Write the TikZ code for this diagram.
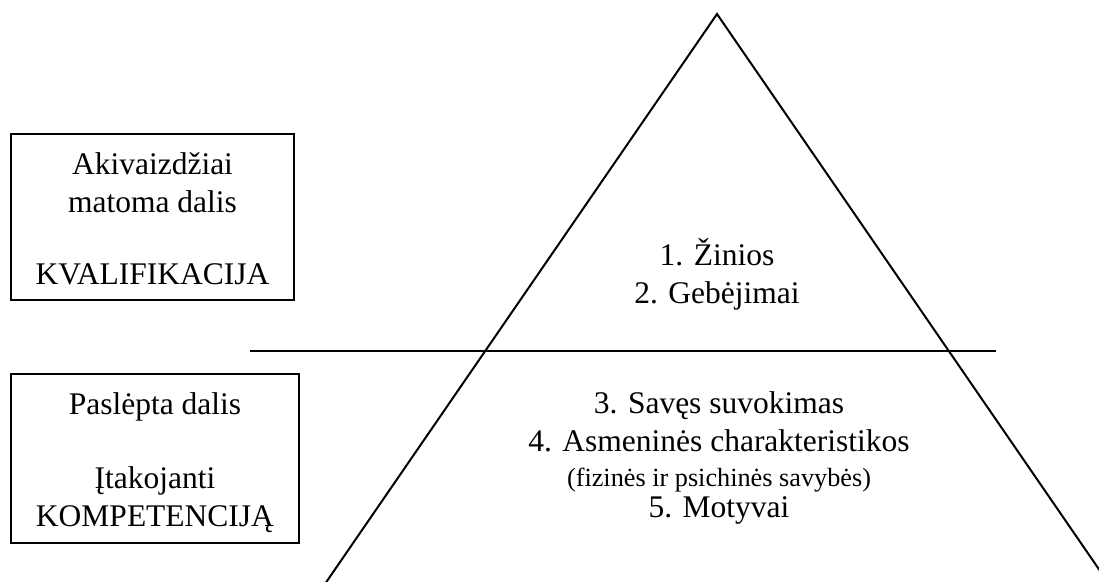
\documentclass[tikz,border=0pt]{standalone}
\usepackage{fontspec}
\setmainfont{Liberation Serif}
\begin{document}
\begin{tikzpicture}[x=1pt,y=-1pt,
  line width=2pt,
  frame/.style={draw, line width=2pt, inner sep=0pt, rectangle},
  big/.style={font=\fontsize{31.5}{38}\selectfont, inner sep=0pt, anchor=base},
  small/.style={font=\fontsize{26.25}{30}\selectfont, inner sep=0pt, anchor=base}]
\clip (0,0) rectangle (1099,581);
\fill[white] (0,0) rectangle (1099,581);
% boxes
\node[frame, minimum width=283pt, minimum height=166pt] (box1) at (152.5,217) {};
\node[frame, minimum width=288pt, minimum height=169pt] (box2) at (155,458.5) {};
\node[big] (t1) at (152.5,174) {Akivaizdžiai};
\node[big] (t2) at (152.5,212) {matoma dalis};
\node[big] (t3) at (152.5,284) {KVALIFIKACIJA};
\node[big] (t4) at (155,414) {Paslėpta dalis};
\node[big] (t5) at (155,488) {Įtakojanti};
\node[big] (t6) at (155,526) {KOMPETENCIJĄ};
% triangle
\coordinate (apex) at (717,14);
\coordinate (bl) at (320.8,590);
\coordinate (br) at (1113.2,590);
\draw[line join=miter] (bl) -- (apex) -- (br);
% divider
\coordinate (hl) at (250,350.5);
\coordinate (hr) at (996,350.5);
\draw (hl) -- (hr);
% triangle texts
\node[big] (z1) at (717,265) {1. Žinios};
\node[big] (z2) at (717,303) {2. Gebėjimai};
\node[big] (z3) at (719,413) {3. Savęs suvokimas};
\node[big] (z4) at (719,451) {4. Asmeninės charakteristikos};
\node[small] (z5) at (719,486) {(fizinės ir psichinės savybės)};
\node[big] (z6) at (719,517) {5. Motyvai};
\end{tikzpicture}
\end{document}
